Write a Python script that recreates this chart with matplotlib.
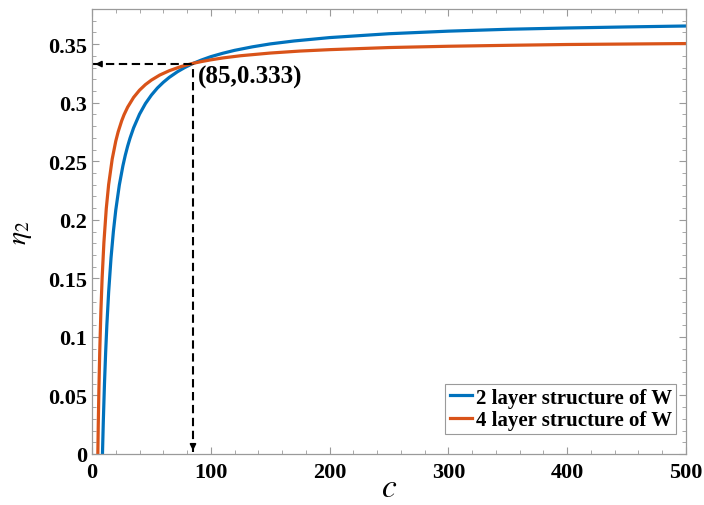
import matplotlib
matplotlib.use('Agg')
import matplotlib.pyplot as plt
from matplotlib.ticker import FixedLocator, MultipleLocator, FuncFormatter

c_two = [8.8, 9.5, 10.5, 11.5, 12.5, 14, 16, 18, 20, 23, 26, 28, 30, 32, 35,
         40, 45, 50, 55, 60, 65, 72, 78, 85, 92, 100, 110, 120, 135, 150,
         170, 200, 250, 300, 350, 400, 450, 500]
eta_two = [0.0000, 0.0274, 0.0602, 0.0873, 0.1101, 0.1382, 0.1674, 0.1901,
           0.2083, 0.2297, 0.2461, 0.2551, 0.2629, 0.2697, 0.2785, 0.2902,
           0.2993, 0.3065, 0.3125, 0.3174, 0.3216, 0.3265, 0.3300, 0.3335,
           0.3364, 0.3393, 0.3422, 0.3447, 0.3477, 0.3502, 0.3527, 0.3556,
           0.3589, 0.3611, 0.3627, 0.3638, 0.3647, 0.3655]

c_four = [4.9, 5.3, 5.8, 6.5, 7.5, 8.5, 10, 12, 14, 17, 20, 22, 25, 27, 30,
          35, 40, 45, 50, 57, 65, 75, 85, 92, 100, 110, 125, 150, 175, 200,
          250, 300, 350, 400, 450, 500]
eta_four = [0.0000, 0.0268, 0.0549, 0.0872, 0.1227, 0.1499, 0.1805, 0.2095,
            0.2301, 0.2519, 0.2672, 0.2751, 0.2846, 0.2898, 0.2962, 0.3045,
            0.3107, 0.3155, 0.3193, 0.3236, 0.3273, 0.3309, 0.3336, 0.3351,
            0.3366, 0.3382, 0.3401, 0.3424, 0.3441, 0.3453, 0.3471, 0.3482,
            0.3490, 0.3497, 0.3501, 0.3505]

series_labels = ['2 layer structure of W', '4 layer structure of W']
point = (85, 0.333)
x_ticks = [0, 100, 200, 300, 400, 500]
y_ticks = [0, 0.05, 0.1, 0.15, 0.2, 0.25, 0.3, 0.35]

BLUE = '#0072BD'
ORANGE = '#D95319'
GREY = '#9a9a9a'


def plot_eta(ax):
    ax.plot(c_two, eta_two, color=BLUE, lw=2.3, label=series_labels[0])
    ax.plot(c_four, eta_four, color=ORANGE, lw=2.3, label=series_labels[1])

    # Dashed guides to the crossing point.
    px, py = point
    ax.plot([0.8, px], [py, py], color='black', lw=1.5, dashes=(4, 2.2))
    ax.plot([px, px], [0.002, py], color='black', lw=1.5, dashes=(4, 2.2))
    head = dict(arrowstyle='-|>', color='black', lw=1.2, mutation_scale=9)
    ax.annotate('', xy=(0.3, py), xytext=(6, py), arrowprops=head)
    ax.annotate('', xy=(px, 0.0005), xytext=(px, 0.006), arrowprops=head)
    ax.text(px + 4, py - 0.0005, '(85,0.333)', fontsize=18, fontweight='bold',
            va='top', ha='left')

    ax.set_xlim(0, 500)
    ax.set_ylim(0, 0.38)
    ax.xaxis.set_major_locator(FixedLocator(x_ticks))
    ax.yaxis.set_major_locator(FixedLocator(y_ticks))
    ax.xaxis.set_minor_locator(MultipleLocator(20))
    ax.yaxis.set_minor_locator(MultipleLocator(0.01))
    ax.yaxis.set_major_formatter(FuncFormatter(lambda v, _: f'{v:g}'))

    ax.tick_params(which='both', direction='in', top=True, right=True,
                   color=GREY, labelsize=16)
    ax.tick_params(which='major', length=5, width=0.8)
    ax.tick_params(which='minor', length=3, width=0.6)
    ax.tick_params(axis='x', pad=6)
    for lab in ax.get_xticklabels() + ax.get_yticklabels():
        lab.set_fontweight('bold')
    for sp in ax.spines.values():
        sp.set_color(GREY)
        sp.set_linewidth(0.9)

    ax.set_xlabel('$c$', fontsize=24, labelpad=-7)
    ax.set_ylabel(r'$\eta_2$', fontsize=20, labelpad=10)

    leg = ax.legend(loc='lower right', bbox_to_anchor=(0.983, 0.045),
                    fancybox=False, framealpha=1, edgecolor=GREY,
                    prop=dict(size=15, weight='bold'), handlelength=1.1,
                    handletextpad=0.15, borderpad=0.2, labelspacing=0.1,
                    borderaxespad=0)
    leg.get_frame().set_linewidth(0.8)


def plot():
    plt.rcParams['font.family'] = ['Liberation Serif', 'DejaVu Serif']
    plt.rcParams['mathtext.fontset'] = 'stix'

    fig = plt.figure(figsize=(7.04, 5.06), dpi=100)
    ax = fig.add_axes([0.1307, 0.1008, 0.8437, 0.8794])
    plot_eta(ax)
    fig.savefig('out.png', dpi=100)


if __name__ == '__main__':
    plot()
